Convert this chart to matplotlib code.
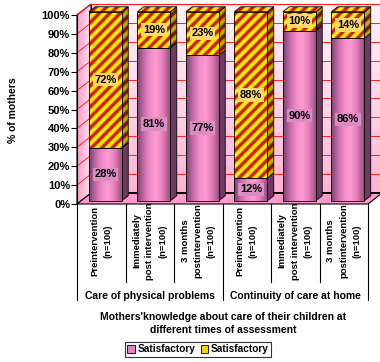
import numpy as np
import matplotlib
matplotlib.use("Agg")
import matplotlib.pyplot as plt
from matplotlib.patches import Polygon, Rectangle, Patch
from matplotlib.colors import LinearSegmentedColormap

# ---------------- data ----------------
groups = ["Care of physical problems", "Continuity of care at home"]
times = ["Preintervention\n(n=100)",
         "Immediately\npost intervention\n(n=100)",
         "3 months\npostintervention\n(n=100)"]
pink_vals = [28, 81, 77, 12, 90, 86]
yellow_vals = [72, 19, 23, 88, 10, 14]
series_names = ["Satisfactory", "Satisfactory"]
yticks = list(range(0, 101, 10))
title = "Mothers'knowledge about care of their children at\ndifferent times of assessment"
ylabel = "% of mothers"

# ---------------- style ----------------
FONT = "Liberation Sans"
plt.rcParams['font.family'] = [FONT, 'DejaVu Sans']

W, H = 380, 362
AX_L, AX_R, AX_T, AX_B = 77, 368, 15, 204   # front plane in pixels
DPX, DPY = 14, 11                            # depth offset in pixels
n = len(pink_vals)
ux = n / (AX_R - AX_L)
uy = 100 / (AX_B - AX_T)
DX, DY = DPX * ux, DPY * uy

fig = plt.figure(figsize=(W / 100, H / 100), dpi=100)
full_w = AX_R + DPX - AX_L
full_h = AX_B - (AX_T - DPY)
ax = fig.add_axes([AX_L / W, 1 - AX_B / H, full_w / W, full_h / H])
ax.set_xlim(0, n + DX)
ax.set_ylim(0, 100 + DY)
ax.patch.set_visible(False)

f0, f1 = 0.30, 0.75                 # bar front / back depth fraction
bw = 0.68

# back wall gradient
wall_cmap = LinearSegmentedColormap.from_list("wall", ["#FFB3D4", "#FFD6E8", "#FFF2F8"])
grad = np.linspace(0, 1, 100).reshape(-1, 1)
ax.imshow(grad, extent=[DX, n + DX, DY, 100 + DY], origin='lower', aspect='auto',
          cmap=wall_cmap, zorder=0.5, clip_on=False)
ax.add_patch(Rectangle((DX, DY), n, 100, fill=False, ec='black', lw=0.8,
                       zorder=0.7, clip_on=False))
# left wall
lw_poly = Polygon([(0, 0), (DX, DY), (DX, 100 + DY), (0, 100)], closed=True,
                  fc='none', ec='black', lw=0.8, zorder=0.8, clip_on=False)
lw_cmap = LinearSegmentedColormap.from_list("lw", ["#FF9CCB", "#FFE3EF"])
ax.add_patch(lw_poly)
im = ax.imshow(np.linspace(0, 1, 50).reshape(1, -1), extent=[0, DX, 0, 100 + DY],
               origin='lower', aspect='auto', cmap=lw_cmap, zorder=0.6)
im.set_clip_path(lw_poly)

# gridlines
for v in yticks[1:]:
    ax.plot([DX, n + DX], [v + DY, v + DY], color='#FF2020', lw=0.7, zorder=0.9, clip_on=False)
    ax.plot([0, DX], [v, v + DY], color='#FF2020', lw=0.7, zorder=0.9, clip_on=False)

# floor
ax.add_patch(Polygon([(0, 0), (n, 0), (n + DX, DY), (DX, DY)], closed=True,
                     fc='#FF9ACB', ec='black', lw=0.8, zorder=1, clip_on=False))
ax.plot([DX, n + DX], [DY, DY], color='black', lw=1.4, zorder=1.1, clip_on=False)

pink_cmap = LinearSegmentedColormap.from_list(
    "pk", ["#7A4470", "#C46AA6", "#F28CCB", "#FF9AD2", "#E07DB8", "#9A5284"])
stripe_cmap = LinearSegmentedColormap.from_list(
    "st", [(0, "#FFF400"), (0.3, "#FFEE00"), (0.5, "#F49000"), (0.7, "#D83400"), (1, "#BC1C00")])
stripe_dark = LinearSegmentedColormap.from_list(
    "std", [(0, "#C0B000"), (0.3, "#B8A400"), (0.5, "#A06000"), (0.7, "#882800"), (1, "#701400")])
hgrad = np.linspace(0, 1, 60).reshape(1, -1)

PERIOD, SLOPE = 10.5, 1.0


def striped(poly_xy, cmap, z):
    pts = np.array(poly_xy)
    x0, y0 = pts.min(axis=0)
    x1, y1 = pts.max(axis=0)
    nx = max(2, int((x1 - x0) / ux * 3))
    ny = max(2, int((y1 - y0) / uy * 3))
    xs = np.linspace(x0, x1, nx) / ux
    ys = np.linspace(y0, y1, ny) / uy
    XX, YY = np.meshgrid(xs, ys)
    ph = (YY - SLOPE * XX) / PERIOD
    val = 0.5 + 0.5 * np.cos(2 * np.pi * ph)
    poly = Polygon(poly_xy, closed=True, fill=False, ec='black', lw=0.6,
                   zorder=z + 0.005)
    ax.add_patch(poly)
    img = ax.imshow(val, extent=[x0, x1, y0, y1], origin='lower', aspect='auto',
                    cmap=cmap, vmin=0, vmax=1, zorder=z, interpolation='bilinear')
    img.set_clip_path(poly)


ox0, oy0 = f0 * DX, f0 * DY
ddx, ddy = (f1 - f0) * DX, (f1 - f0) * DY

for i in range(n):
    xl = i + 0.5 - bw / 2 + ox0
    xr = xl + bw
    p = pink_vals[i]
    yv = yellow_vals[i]
    z = 2 + i * 0.1
    # pink segment
    y0, y1 = 0 + oy0, p + oy0
    ax.add_patch(Polygon([(xr, y0), (xr + ddx, y0 + ddy), (xr + ddx, y1 + ddy), (xr, y1)],
                         closed=True, fc='#6E3A62', ec='black', lw=0.6, zorder=z))
    ax.imshow(hgrad, extent=[xl, xr, y0, y1], origin='lower', aspect='auto',
              cmap=pink_cmap, zorder=z + 0.01)
    ax.add_patch(Rectangle((xl, y0), bw, p, fill=False, ec='black', lw=0.6,
                           zorder=z + 0.02))
    # yellow segment
    y2 = p + yv + oy0
    side = [(xr, y1), (xr + ddx, y1 + ddy), (xr + ddx, y2 + ddy), (xr, y2)]
    top = [(xl, y2), (xr, y2), (xr + ddx, y2 + ddy), (xl + ddx, y2 + ddy)]
    front = [(xl, y1), (xr, y1), (xr, y2), (xl, y2)]
    striped(side, stripe_dark, z + 0.03)
    striped(top, stripe_cmap, z + 0.04)
    striped(front, stripe_cmap, z + 0.05)
    # labels
    cx = (xl + xr) / 2
    ax.text(cx, y0 + p / 2, f"{p}%", ha='center', va='center', fontsize=8,
            fontweight='bold', zorder=10,
            bbox=dict(boxstyle='square,pad=0.15', fc='#DC8CC2', ec='none'))
    ax.text(cx, y1 + yv / 2, f"{yv}%", ha='center', va='center', fontsize=8,
            fontweight='bold', zorder=10,
            bbox=dict(boxstyle='square,pad=0.15', fc='#FFD870', ec='none'))

# y axis
for s in ['top', 'right', 'bottom']:
    ax.spines[s].set_visible(False)
ax.spines['left'].set_linewidth(0.8)
ax.spines['left'].set_zorder(3)
ax.spines['left'].set_bounds(0, 100)
ax.set_yticks(yticks)
ax.set_yticklabels([f"{v}%" for v in yticks], fontsize=8, fontweight='bold')
ax.tick_params(axis='y', length=4, width=0.8, pad=1)
ax.set_xticks([])
ax.set_ylabel(ylabel, fontsize=7.5, fontweight='bold')
ax.yaxis.set_label_coords((18.5 - AX_L) / full_w, (AX_B - 110) / full_h)

# category table below
def py(ypix):
    return (AX_B - ypix) / full_h
trans = ax.get_xaxis_transform()
for k in range(n + 1):
    bottom = 300 if k % 3 == 0 else 282
    ax.plot([k, k], [0, py(bottom)], transform=trans, color='black', lw=0.8, clip_on=False)
for i in range(n):
    ax.text(i + 0.5, py(241), times[i % 3], transform=trans, rotation=90,
            ha='center', va='center', multialignment='center', fontsize=6.8,
            fontweight='bold', linespacing=1.6)
for g, name in enumerate(groups):
    ax.text(g * 3 + 1.5, py(296), name, transform=trans, ha='center', va='center',
            fontsize=7.5, fontweight='bold')

fig.text(223 / W, 1 - 323.5 / H, title, ha='center', va='center', fontsize=7.5,
         fontweight='bold', linespacing=1.35)

handles = [Patch(fc='#E87FC0', ec='black', lw=0.6), Patch(fc='#FFD000', ec='black', lw=0.6)]
leg = fig.legend(handles, series_names, loc='center', bbox_to_anchor=(198 / W, 1 - 349.5 / H),
                 ncol=2, frameon=True, fancybox=False, handlelength=0.7,
                 handleheight=0.7, handletextpad=0.3, columnspacing=0.5, borderpad=0.25,
                 prop={'weight': 'bold', 'size': 7.3})
leg.get_frame().set_edgecolor('black')
leg.get_frame().set_linewidth(0.8)

fig.savefig("out.png", dpi=100)
